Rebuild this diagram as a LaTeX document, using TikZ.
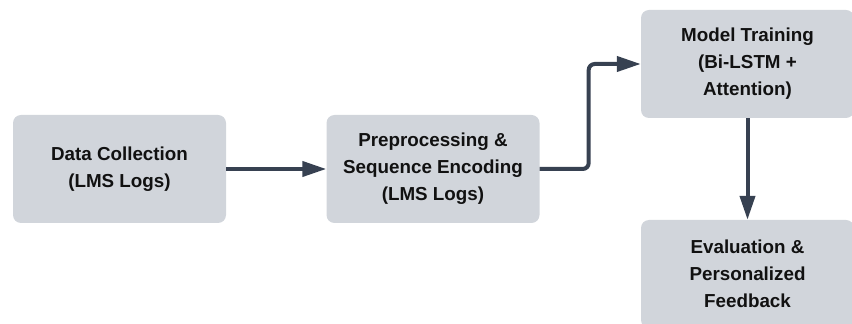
\documentclass[tikz,border=0pt]{standalone}
\usepackage{fontspec}
\setmainfont{Liberation Sans}
\usepackage{xcolor}
\usetikzlibrary{positioning, arrows.meta}

\definecolor{boxfill}{HTML}{D1D5DB}
\definecolor{arrcol}{HTML}{374151}
\definecolor{txtcol}{HTML}{111111}

\begin{document}
\begin{tikzpicture}[
  x=1pt, y=1pt,
  stage/.style={fill=boxfill, rounded corners=8pt, minimum width=213pt,
                minimum height=108pt, inner sep=0pt, align=center,
                text=txtcol, font=\fontsize{18.8pt}{27pt}\selectfont\bfseries},
  arr/.style={-{Triangle[length=24pt, width=15pt]}, draw=arrcol,
              line width=4pt},
]
%% page is 852 x 324, the last box runs off the bottom edge
\useasboundingbox (0,0) rectangle (852,324);

%% ---- the four stages ----
\node[stage] (collect) at (119.5,155) {Data Collection\\(LMS Logs)};
\node[stage] (prep)    at (433,155)   {Preprocessing \&\\Sequence Encoding\\(LMS Logs)};
\node[stage] (train)   at (747.5,260) {Model Training\\(Bi-LSTM +\\Attention)};
\node[stage] (eval)    at (747.5,50)  {Evaluation \&\\Personalized\\Feedback};

%% ---- connectors ----
\draw[arr] (collect) -- (prep);
\draw[arr, rounded corners=6pt] (prep.east) -- ++(49,0) |- (train.west);
\draw[arr] (train) -- (eval);
\end{tikzpicture}
\end{document}
